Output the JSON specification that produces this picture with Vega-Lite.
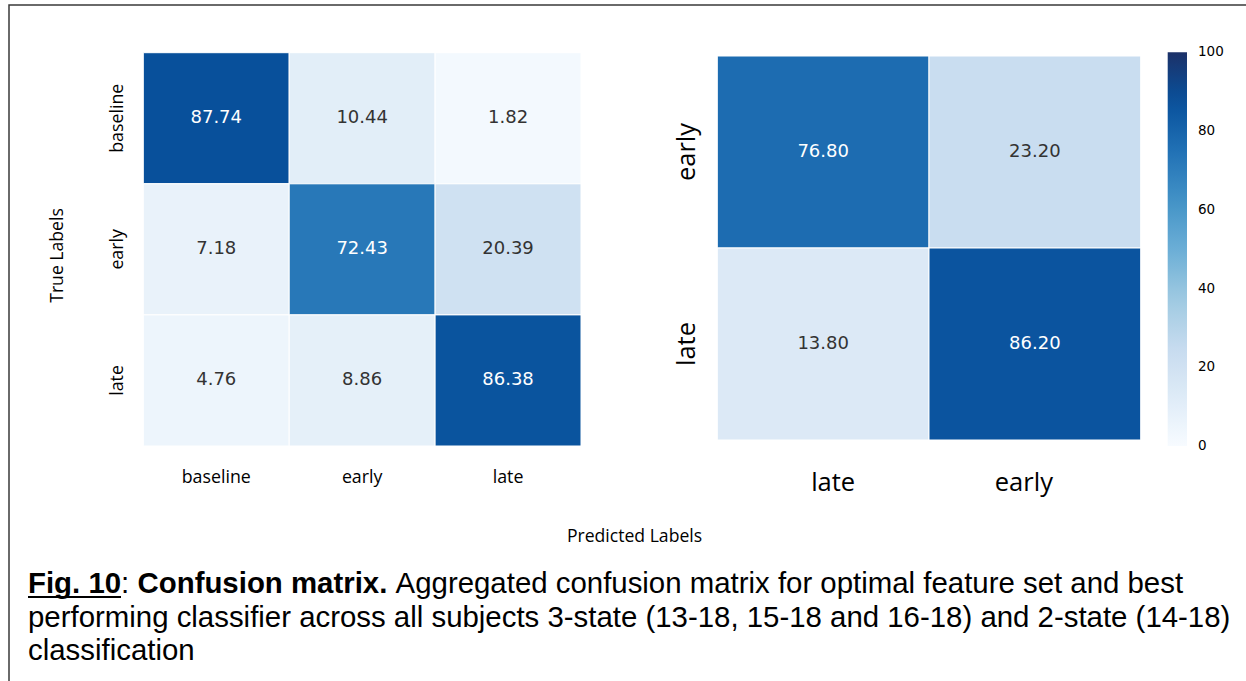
{
  "$schema": "https://vega.github.io/schema/vega-lite/v6.json",
  "width": 1241,
  "height": 680,
  "autosize": {"type": "none"},
  "padding": {"left": 9, "top": 5, "right": -4, "bottom": -4},
  "background": "white",
  "config": {
    "view": {"stroke": "#3a3a3a", "strokeWidth": 1.5},
    "axis": {"grid": false, "ticks": false, "tickSize": 0, "domain": false, "labelColor": "black", "titleColor": "black"}
  },
  "datasets": {
    "threeState": [
      {"actual": "baseline", "predicted": "baseline", "value": 87.74},
      {"actual": "baseline", "predicted": "early", "value": 10.44},
      {"actual": "baseline", "predicted": "late", "value": 1.82},
      {"actual": "early", "predicted": "baseline", "value": 7.18},
      {"actual": "early", "predicted": "early", "value": 72.43},
      {"actual": "early", "predicted": "late", "value": 20.39},
      {"actual": "late", "predicted": "baseline", "value": 4.76},
      {"actual": "late", "predicted": "early", "value": 8.86},
      {"actual": "late", "predicted": "late", "value": 86.38}
    ],
    "twoState": [
      {"actual": "early", "predicted": "late", "value": 76.80},
      {"actual": "early", "predicted": "early", "value": 23.20},
      {"actual": "late", "predicted": "late", "value": 13.80},
      {"actual": "late", "predicted": "early", "value": 86.20}
    ],
    "caption": [
      {"line": 1, "part": "label", "text": "Fig. 10"},
      {"line": 1, "part": "colon", "text": ":"},
      {"line": 1, "part": "heading", "text": "Confusion matrix."},
      {"line": 1, "part": "body", "text": "Aggregated confusion matrix for optimal feature set and best"},
      {"line": 2, "part": "body", "text": "performing classifier across all subjects 3-state (13-18, 15-18 and 16-18) and 2-state (14-18)"},
      {"line": 3, "part": "body", "text": "classification"}
    ]
  },
  "layer": [
    {
      "data": {"name": "threeState"},
      "encoding": {
        "x": {
          "field": "predicted", "type": "nominal",
          "scale": {"domain": ["baseline", "early", "late"], "range": [134.3, 572], "paddingInner": 0, "paddingOuter": 0},
          "axis": {
            "orient": "bottom", "offset": -239, "labelAngle": 0,
            "labelFont": "Open Sans", "labelFontSize": 17.8, "labelBaseline": "middle", "labelPadding": 31,
            "title": "Predicted Labels", "titleFont": "Open Sans", "titleFontSize": 17.6, "titleFontWeight": "normal",
            "titleX": 625, "titleY": 90, "titleAlign": "center", "titleBaseline": "middle", "titleAngle": 0
          }
        },
        "y": {
          "field": "actual", "type": "nominal",
          "scale": {"domain": ["baseline", "early", "late"], "range": [47.7, 441], "paddingInner": 0, "paddingOuter": 0},
          "axis": {
            "orient": "left", "offset": -134.3, "labelAngle": 270, "labelAlign": "center", "labelBaseline": "middle",
            "labelFont": "Open Sans", "labelFontSize": 17.8, "labelPadding": 26,
            "title": "True Labels", "titleFont": "Open Sans", "titleFontSize": 17.6, "titleFontWeight": "normal",
            "titleX": -86, "titleY": 250, "titleAngle": 270, "titleAlign": "center", "titleBaseline": "middle"
          }
        }
      },
      "layer": [
        {
          "mark": {"type": "rect", "stroke": "white", "strokeWidth": 1},
          "encoding": {
            "color": {
              "field": "value", "type": "quantitative",
              "scale": {"type": "linear", "domain": [0, 12.5, 25, 37.5, 50, 62.5, 75, 87.5, 100], "range": ["#f7fbff", "#deebf7", "#c6dbef", "#9ecae1", "#6baed6", "#4292c6", "#2171b5", "#08519c", "#1c3168"], "interpolate": "rgb"},
              "legend": {
                "orient": "none", "legendX": 1158.7, "legendY": 47.3, "direction": "vertical", "padding": 0,
                "gradientLength": 393.7, "gradientThickness": 19.3, "gradientStrokeWidth": 0,
                "title": null, "values": [0, 20, 40, 60, 80, 100],
                "labelFont": "DejaVu Sans", "labelFontSize": 13.5, "labelColor": "black", "labelOffset": 11, "labelBaseline": "middle",
                "encode": {"labels": {"update": {"baseline": {"value": "middle"}}}}
              }
            }
          }
        },
        {
          "mark": {"type": "text", "font": "DejaVu Sans", "fontSize": 18},
          "encoding": {
            "text": {"field": "value", "type": "quantitative", "format": ".2f"},
            "color": {"condition": {"test": "datum.value > 50", "value": "white"}, "value": "#333333"}
          }
        }
      ]
    },
    {
      "data": {"name": "twoState"},
      "encoding": {
        "x": {
          "field": "predicted", "type": "nominal",
          "scale": {"domain": ["late", "early"], "range": [708.3, 1131.7], "paddingInner": 0, "paddingOuter": 0},
          "axis": {
            "orient": "bottom", "offset": -245, "labelAngle": 0,
            "labelFont": "Open Sans", "labelFontSize": 25.5, "labelBaseline": "middle", "labelPadding": 42,
            "labelOffset": {"condition": {"test": "datum.value === 'late'", "value": 10}, "value": -11},
            "title": null
          }
        },
        "y": {
          "field": "actual", "type": "nominal",
          "scale": {"domain": ["early", "late"], "range": [51, 435], "paddingInner": 0, "paddingOuter": 0},
          "axis": {
            "orient": "left", "offset": -708.3, "labelAngle": 270, "labelAlign": "center", "labelBaseline": "middle",
            "labelFont": "Open Sans", "labelFontSize": 25.5, "labelPadding": 31,
            "title": null
          }
        }
      },
      "layer": [
        {
          "mark": {"type": "rect", "stroke": "white", "strokeWidth": 1},
          "encoding": {
            "color": {
              "field": "value", "type": "quantitative",
              "scale": {"type": "linear", "domain": [0, 12.5, 25, 37.5, 50, 62.5, 75, 87.5, 100], "range": ["#f7fbff", "#deebf7", "#c6dbef", "#9ecae1", "#6baed6", "#4292c6", "#2171b5", "#08519c", "#1c3168"], "interpolate": "rgb"}
            }
          }
        },
        {
          "mark": {"type": "text", "font": "DejaVu Sans", "fontSize": 18},
          "encoding": {
            "text": {"field": "value", "type": "quantitative", "format": ".2f"},
            "color": {"condition": {"test": "datum.value > 50", "value": "white"}, "value": "#333333"}
          }
        }
      ]
    },
    {
      "data": {"name": "caption"},
      "encoding": {
        "y": {"field": "line", "type": "quantitative", "scale": {"domain": [1, 3], "range": [588, 655]}, "axis": null},
        "x": {"value": 19}
      },
      "layer": [
        {
          "transform": [{"filter": "datum.part === 'label'"}],
          "mark": {"type": "rule", "color": "black", "strokeWidth": 2.2},
          "encoding": {"x2": {"value": 112}, "yOffset": {"value": 4}}
        },
        {
          "transform": [{"filter": "datum.part === 'label'"}],
          "mark": {"type": "text", "font": "Liberation Sans", "fontSize": 29.4, "fontWeight": "bold", "align": "left", "baseline": "alphabetic", "color": "black", "dx": 0},
          "encoding": {"text": {"field": "text", "type": "nominal"}}
        },
        {
          "transform": [{"filter": "datum.part === 'colon'"}],
          "mark": {"type": "text", "font": "Liberation Sans", "fontSize": 29.4, "align": "left", "baseline": "alphabetic", "color": "black", "dx": 93.1},
          "encoding": {"text": {"field": "text", "type": "nominal"}}
        },
        {
          "transform": [{"filter": "datum.part === 'heading'"}],
          "mark": {"type": "text", "font": "Liberation Sans", "fontSize": 29.4, "fontWeight": "bold", "align": "left", "baseline": "alphabetic", "color": "black", "dx": 109.5},
          "encoding": {"text": {"field": "text", "type": "nominal"}}
        },
        {
          "transform": [{"filter": "datum.part === 'body' && datum.line === 1"}],
          "mark": {"type": "text", "font": "Liberation Sans", "fontSize": 29.4, "align": "left", "baseline": "alphabetic", "color": "black", "dx": 367.6},
          "encoding": {"text": {"field": "text", "type": "nominal"}}
        },
        {
          "transform": [{"filter": "datum.part === 'body' && datum.line > 1"}],
          "mark": {"type": "text", "font": "Liberation Sans", "fontSize": 29.4, "align": "left", "baseline": "alphabetic", "color": "black", "dx": 0},
          "encoding": {"text": {"field": "text", "type": "nominal"}}
        }
      ]
    }
  ],
  "resolve": {"scale": {"x": "independent", "y": "independent"}}
}
